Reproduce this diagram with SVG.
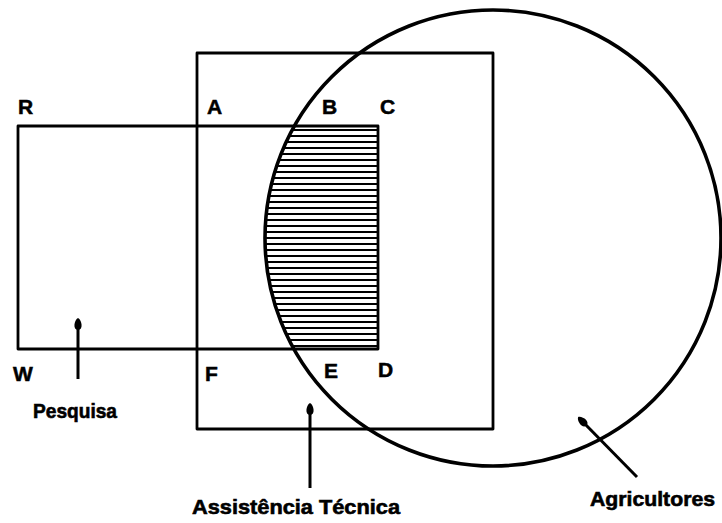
<svg xmlns="http://www.w3.org/2000/svg" width="722" height="523" viewBox="0 0 722 523">
<style>
.box{fill:none;stroke:#000;stroke-width:2.8;stroke-linejoin:round}
.circ{fill:none;stroke:#000;stroke-width:3.6}
.hatch line{stroke:#000;stroke-width:2}
.lbl{font-family:"Liberation Sans",Arial,sans-serif;font-weight:bold;font-size:21px;fill:#000;stroke:#000;stroke-width:0.5}
.cap{font-family:"Liberation Sans",Arial,sans-serif;font-weight:bold;font-size:20px;fill:#000;stroke:#000;stroke-width:0.6}
.arr{stroke:#000;stroke-width:3;fill:none;marker-end:url(#tip)}
</style>
<defs>
<marker id="tip" markerUnits="userSpaceOnUse" viewBox="-8 -7 16 14" markerWidth="16" markerHeight="14" refX="0" refY="0" orient="auto">
<path d="M7,0 C5,-4 -5,-5.5 -5,0 C-5,5.5 5,4 7,0 Z" fill="#000"/>
</marker>
<clipPath id="lens">
<circle cx="493" cy="238" r="228"/>
</clipPath>
</defs>
<g id="hatch" class="hatch" clip-path="url(#lens)">
<line x1="260" y1="130" x2="378" y2="130"/><line x1="260" y1="136" x2="378" y2="136"/><line x1="260" y1="142" x2="378" y2="142"/><line x1="260" y1="148" x2="378" y2="148"/><line x1="260" y1="154" x2="378" y2="154"/><line x1="260" y1="160" x2="378" y2="160"/><line x1="260" y1="166" x2="378" y2="166"/><line x1="260" y1="172" x2="378" y2="172"/><line x1="260" y1="178" x2="378" y2="178"/><line x1="260" y1="184" x2="378" y2="184"/><line x1="260" y1="190" x2="378" y2="190"/><line x1="260" y1="196" x2="378" y2="196"/><line x1="260" y1="202" x2="378" y2="202"/><line x1="260" y1="208" x2="378" y2="208"/><line x1="260" y1="214" x2="378" y2="214"/><line x1="260" y1="220" x2="378" y2="220"/><line x1="260" y1="226" x2="378" y2="226"/><line x1="260" y1="232" x2="378" y2="232"/><line x1="260" y1="238" x2="378" y2="238"/><line x1="260" y1="244" x2="378" y2="244"/><line x1="260" y1="250" x2="378" y2="250"/><line x1="260" y1="256" x2="378" y2="256"/><line x1="260" y1="262" x2="378" y2="262"/><line x1="260" y1="268" x2="378" y2="268"/><line x1="260" y1="274" x2="378" y2="274"/><line x1="260" y1="280" x2="378" y2="280"/><line x1="260" y1="286" x2="378" y2="286"/><line x1="260" y1="292" x2="378" y2="292"/><line x1="260" y1="298" x2="378" y2="298"/><line x1="260" y1="304" x2="378" y2="304"/><line x1="260" y1="310" x2="378" y2="310"/><line x1="260" y1="316" x2="378" y2="316"/><line x1="260" y1="322" x2="378" y2="322"/><line x1="260" y1="328" x2="378" y2="328"/><line x1="260" y1="334" x2="378" y2="334"/><line x1="260" y1="340" x2="378" y2="340"/><line x1="260" y1="346" x2="378" y2="346"/>
</g>
<g id="pesquisa">
<rect class="box" x="18" y="126" width="360" height="223"/>
<text class="cap" x="33" y="418" textLength="84" lengthAdjust="spacingAndGlyphs">Pesquisa</text>
</g>
<g id="assistencia">
<rect class="box" x="197" y="53" width="296" height="376"/>
<text class="cap" x="192" y="514" textLength="208" lengthAdjust="spacingAndGlyphs">Assistência  Técnica</text>
</g>
<g id="agricultores">
<circle class="circ" cx="493" cy="238" r="228"/>
<text class="cap" x="590" y="506" textLength="125" lengthAdjust="spacingAndGlyphs">Agricultores</text>
</g>
<g id="points">
<text class="lbl" x="18" y="114">R</text>
<text class="lbl" x="207" y="114">A</text>
<text class="lbl" x="322" y="114">B</text>
<text class="lbl" x="380" y="114">C</text>
<text class="lbl" x="13" y="381">W</text>
<text class="lbl" x="205" y="381">F</text>
<text class="lbl" x="324" y="378">E</text>
<text class="lbl" x="378" y="377">D</text>
</g>
<g id="connectors">
<line class="arr" x1="78" y1="379" x2="78" y2="325"/>
<line class="arr" x1="310" y1="488" x2="310" y2="410"/>
<line class="arr" x1="637" y1="477" x2="583" y2="422"/>
</g>
</svg>
